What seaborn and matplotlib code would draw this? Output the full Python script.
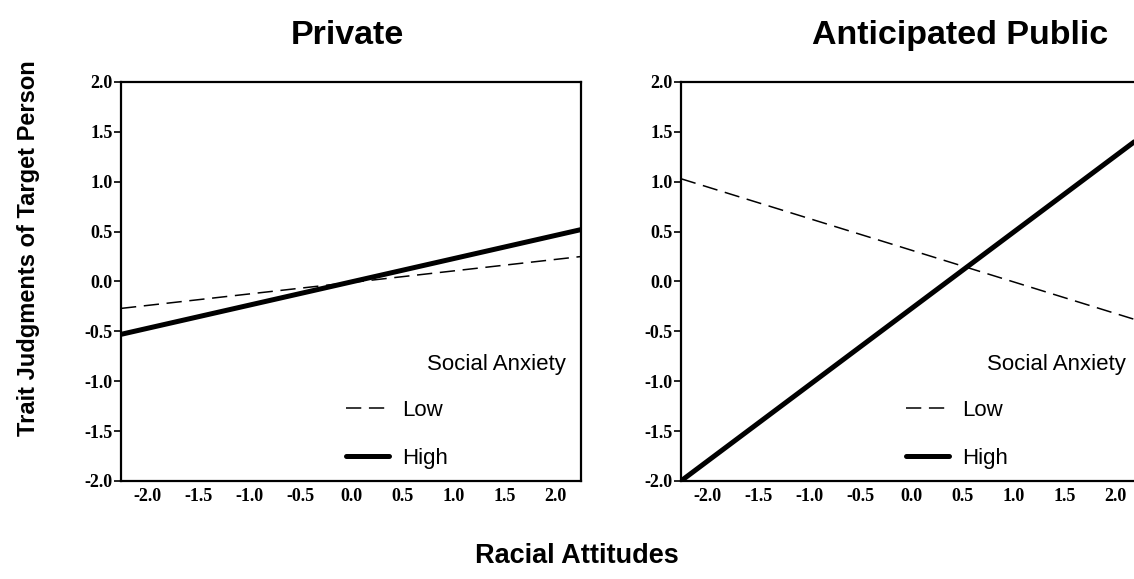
import matplotlib
matplotlib.use("Agg")
import matplotlib.pyplot as plt
import seaborn as sns
import pandas as pd
from matplotlib.lines import Line2D

# ===========================
# Simple slopes (endpoints of each regression line)
# ===========================
panels = ["Private", "Anticipated Public"]
groups = ["Low", "High"]
x_ends = [-2.26, 2.25]
private_low = [-0.27, 0.25]
private_high = [-0.53, 0.52]
public_low = [1.03, -0.40]
public_high = [-2.00, 1.45]
y_ticks = [-2.0, -1.5, -1.0, -0.5, 0.0, 0.5, 1.0, 1.5, 2.0]
x_ticks = [-2.0, -1.5, -1.0, -0.5, 0.0, 0.5, 1.0, 1.5, 2.0]

rows = []
for panel, low, high in zip(panels, [private_low, public_low], [private_high, public_high]):
    for grp, vals in zip(groups, [low, high]):
        for xv, yv in zip(x_ends, vals):
            rows.append({"Panel": panel, "Social Anxiety": grp, "Racial Attitudes": xv, "Trait": yv})
df = pd.DataFrame(rows)

sns.set_theme(style="white")
plt.rcParams["font.family"] = ["Liberation Sans", "DejaVu Sans"]
plt.rcParams["text.color"] = "black"
plt.rcParams["xtick.color"] = "black"
plt.rcParams["ytick.color"] = "black"
plt.rcParams["axes.labelcolor"] = "black"

fig = plt.figure(figsize=(11.34, 5.79), dpi=100)
ax_left = fig.add_axes([0.1067, 0.1693, 0.4056, 0.6891])
ax_right = fig.add_axes([0.6005, 0.1693, 0.4056, 0.6891])

styles = {"Low": dict(lw=1.1, linestyle=(0, (10, 5))), "High": dict(lw=3.6, linestyle="-")}

for ax, panel in zip([ax_left, ax_right], panels):
    sub = df[df["Panel"] == panel]
    for grp in groups:
        g = sub[sub["Social Anxiety"] == grp]
        sns.lineplot(data=g, x="Racial Attitudes", y="Trait", ax=ax, color="black",
                     solid_capstyle="butt", **styles[grp])
    ax.set_xlim(-2.26, 2.25)
    ax.set_ylim(-2.0, 2.0)
    ax.set_xticks(x_ticks)
    ax.set_yticks(y_ticks)
    ax.set_xticklabels([f"{t:.1f}" for t in x_ticks], family="Liberation Serif",
                       fontsize=13, fontweight="bold")
    ax.set_yticklabels([f"{t:.1f}" for t in y_ticks], family="Liberation Serif",
                       fontsize=13, fontweight="bold")
    ax.tick_params(axis="y", direction="out", length=5, width=1.2, color="black", pad=1, left=True)
    ax.tick_params(axis="x", length=0, pad=5)
    ax.set_xlabel("")
    ax.set_ylabel("")
    for s in ax.spines.values():
        s.set_color("black")
        s.set_linewidth(1.6)
        s.set_visible(True)

    handles = [Line2D([0], [0], color="black", **styles[g]) for g in groups]
    ax.legend(handles, groups, loc="upper left", bbox_to_anchor=(0.49, 0.203),
              frameon=False, fontsize=16, handlelength=1.9, handletextpad=0.6,
              labelspacing=1.22, borderpad=0, borderaxespad=0)
    ax.text(0.665, 0.278, "Social Anxiety", transform=ax.transAxes, fontsize=16,
            ha="left", va="baseline")

fig.text(0.306, 0.924, "Private", ha="center", va="baseline", fontsize=24.5, fontweight="bold")
fig.text(0.8466, 0.924, "Anticipated Public", ha="center", va="baseline", fontsize=24.5,
         fontweight="bold")
fig.text(0.0247, 0.5717, "Trait Judgments of Target Person", rotation=90, ha="center",
         va="center", fontsize=17, fontweight="bold")
fig.text(0.509, 0.0397, "Racial Attitudes", ha="center", va="center", fontsize=19.5,
         fontweight="bold")

fig.savefig("out.png", dpi=100)
